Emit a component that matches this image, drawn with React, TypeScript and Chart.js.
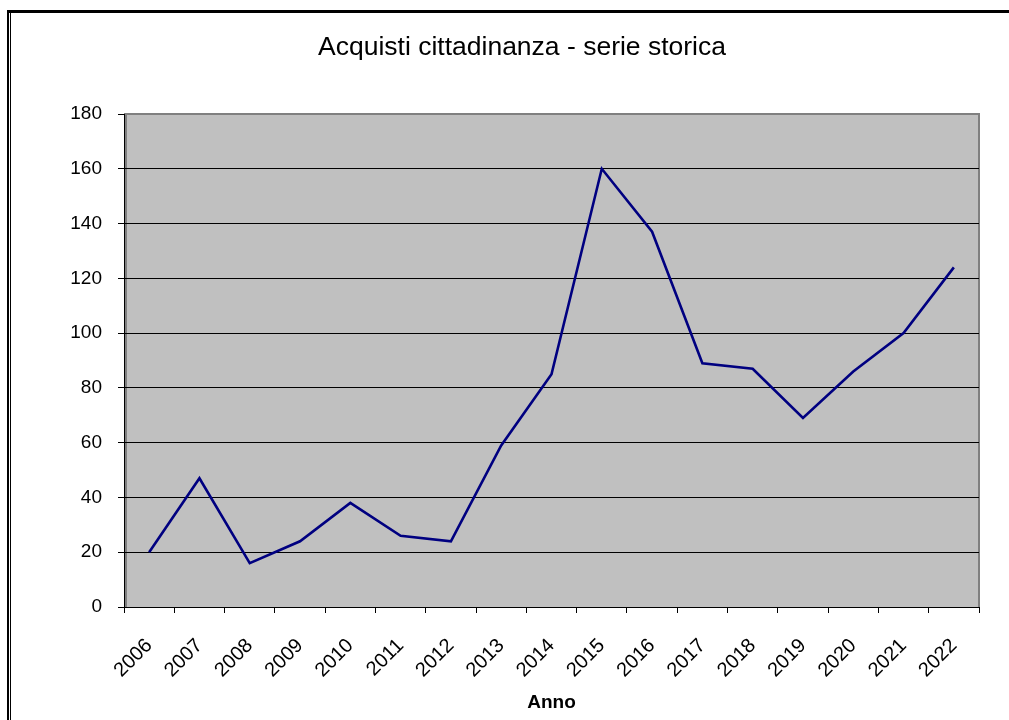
import React, { useEffect, useRef } from "react";
import { Chart, registerables } from "chart.js";

Chart.register(...registerables);

const chartTitle = "Acquisti cittadinanza - serie storica";
const xAxisTitle = "Anno";
const years = ["2006", "2007", "2008", "2009", "2010", "2011", "2012", "2013", "2014", "2015", "2016", "2017", "2018", "2019", "2020", "2021", "2022"];
const acquisti = [20, 47, 16, 24, 38, 26, 24, 59, 85, 160, 137, 89, 87, 69, 86, 100, 124];
const yMin = 0;
const yMax = 180;
const yStep = 20;

const framePlugin = {
  id: "frame",
  beforeDraw(chart: any) {
    const { ctx, chartArea: a } = chart;
    ctx.save();
    ctx.fillStyle = "#ffffff";
    ctx.fillRect(0, 0, chart.width, chart.height);
    ctx.fillStyle = "#000000";
    ctx.fillRect(7, 10, 2, chart.height - 10);
    ctx.fillRect(10, 13, 1, chart.height - 13);
    ctx.fillRect(7, 10, chart.width - 7, 3);
    ctx.fillStyle = "#C0C0C0";
    ctx.fillRect(a.left, a.top, a.right - a.left, a.bottom - a.top);
    ctx.fillStyle = "#808080";
    ctx.fillRect(a.left, a.top - 1, a.right - a.left + 1, 2);
    ctx.fillRect(a.right - 1, a.top - 1, 2, a.bottom - a.top + 1);
    ctx.fillRect(a.left + 1, a.top, 2, a.bottom - a.top);
    ctx.restore();
  },
};

export default function App() {
  const ref = useRef<HTMLCanvasElement | null>(null);

  useEffect(() => {
    if (!ref.current) return;
    Chart.defaults.font.family = "Arial, 'Liberation Sans', sans-serif";
    Chart.defaults.color = "#000000";
    const chart = new Chart(ref.current, {
      type: "line",
      data: {
        labels: years,
        datasets: [
          {
            data: acquisti,
            borderColor: "#000080",
            borderWidth: 2.6,
            pointRadius: 0,
            fill: false,
            tension: 0,
          },
        ],
      },
      options: {
        responsive: false,
        animation: false,
        devicePixelRatio: 1,
        layout: { padding: { left: 65, right: 30, top: 0, bottom: 0 } },
        plugins: {
          legend: { display: false },
          tooltip: { enabled: false },
          title: {
            display: true,
            text: chartTitle,
            color: "#000000",
            font: { size: 26.5, weight: "normal" },
            padding: { top: 32, bottom: 50.2 },
          },
        },
        scales: {
          x: {
            offset: true,
            afterFit: (s: any) => {
              s.height = 113;
            },
            grid: {
              offset: true,
              drawOnChartArea: false,
              drawTicks: true,
              tickLength: 6,
              color: "#000000",
            },
            border: { display: true, color: "#000000", width: 1 },
            ticks: {
              autoSkip: false,
              maxRotation: 45,
              minRotation: 45,
              padding: 21,
              font: { size: 20 },
              color: "#000000",
            },
            title: {
              display: true,
              text: xAxisTitle,
              color: "#000000",
              font: { size: 19, weight: "bold" },
              padding: { top: 0, bottom: 6 },
            },
          },
          y: {
            min: yMin,
            max: yMax,
            afterFit: (s: any) => {
              s.width = 59;
            },
            grid: {
              color: (c: any) => (c.tick && c.tick.value === yMax ? "#808080" : "#000000"),
              tickColor: "#000000",
              tickLength: 6,
              lineWidth: 1,
            },
            border: { display: true, color: "#000000", width: 1 },
            ticks: {
              stepSize: yStep,
              padding: 16,
              font: { size: 19 },
              color: "#000000",
            },
          },
        },
      },
      plugins: [framePlugin],
    });
    return () => chart.destroy();
  }, []);

  return (
    <div style={{ position: "absolute", left: 0, top: 0, width: 1009, height: 720, overflow: "hidden" }}>
      <canvas ref={ref} width={1009} height={720} style={{ display: "block", width: 1009, height: 720 }} />
    </div>
  );
}
